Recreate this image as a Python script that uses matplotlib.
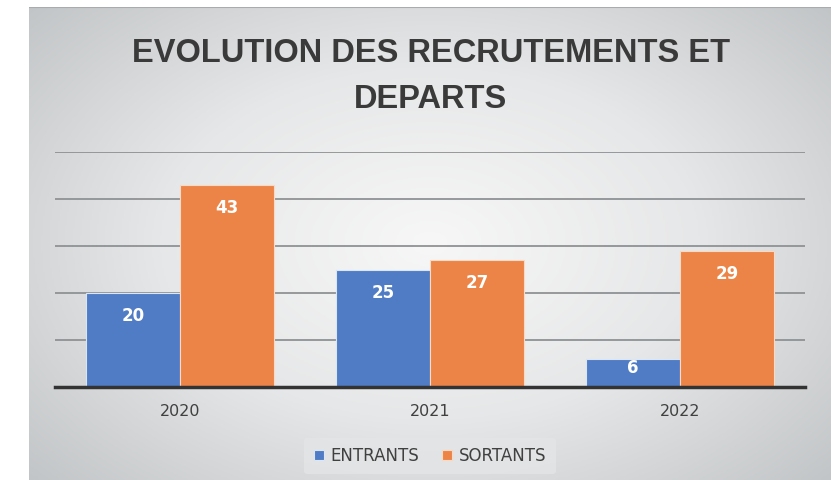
import numpy as np
import matplotlib.pyplot as plt
from matplotlib.colors import LinearSegmentedColormap

years = ["2020", "2021", "2022"]
entrants = [20, 25, 6]
sortants = [43, 27, 29]
series_names = ["ENTRANTS", "SORTANTS"]

blue = "#4f7cc4"
orange = "#ec8447"
title_font = ["Liberation Sans", "DejaVu Sans"]

W, H = 836, 480
fig = plt.figure(figsize=(W / 100, H / 100), dpi=100)
fig.patch.set_facecolor("white")

# panel with a radial gradient, like the office chart background
px0, px1, py0, py1 = 29, 831, 7, 480
bg = fig.add_axes([px0 / W, 1 - py1 / H, (px1 - px0) / W, (py1 - py0) / H])
gx, gy = np.meshgrid(np.linspace(-1, 1, 400), np.linspace(-1, 1, 240))
r = np.clip(np.sqrt(gx ** 2 + (gy * 0.9) ** 2) / 1.35, 0, 1)
cmap = LinearSegmentedColormap.from_list("bg", ["#f7f7f7", "#e6e7e8", "#c2c5c7"])
bg.imshow(r, cmap=cmap, aspect="auto", extent=[0, 1, 0, 1], origin="lower",
          vmin=0, vmax=1, interpolation="bilinear")
bg.set_axis_off()
bg.plot([0, 1], [1, 1], color="#a9acae", lw=1.5, transform=bg.transAxes)

# plot area: x 55..805, y 152..387 (0..50)
ax0, ax1, ay0, ay1 = 55, 805, 152, 387
ax = fig.add_axes([ax0 / W, 1 - ay1 / H, (ax1 - ax0) / W, (ay1 - ay0) / H])
ax.set_facecolor("none")

x = np.arange(len(years))
w = 0.375
b1 = ax.bar(x - w / 2, entrants, w, color=blue, edgecolor="#dbe6f5",
            linewidth=0.8, label=series_names[0], zorder=3)
b2 = ax.bar(x + w / 2, sortants, w, color=orange, edgecolor="#f7d9c4",
            linewidth=0.8, label=series_names[1], zorder=3)

px_per_unit = (ay1 - ay0) / 50
for bars in (b1, b2):
    for rect in bars:
        h = rect.get_height()
        # inside end; short bars get the label pushed up near the top
        off_px = min(23, 0.33 * h * px_per_unit)
        ax.annotate(f"{h:g}", (rect.get_x() + rect.get_width() / 2, h),
                    xytext=(0, -off_px * 72 / 100), textcoords="offset points",
                    ha="center", va="center", color="white",
                    fontsize=12, fontweight="bold", zorder=4)

ax.set_xlim(-0.5, 2.5)
ax.set_ylim(0, 50)
ax.set_yticks([10, 20, 30, 40, 50])
ax.yaxis.grid(True, color="#8f9294", lw=1.3, zorder=0)
ax.tick_params(axis="y", left=False, labelleft=False)
ax.set_xticks(x)
ax.set_xticklabels(years, fontsize=11.5, color="#404040")
ax.tick_params(axis="x", length=0, pad=12)
for s in ["top", "right", "left"]:
    ax.spines[s].set_visible(False)
ax.spines["bottom"].set_color("#333333")
ax.spines["bottom"].set_linewidth(2.5)
ax.spines["bottom"].set_zorder(5)

fig.text(431 / W, 1 - 53 / H, "EVOLUTION DES RECRUTEMENTS ET",
         ha="center", va="center", fontsize=23.5, fontweight="bold",
         color="#3a3a3a", family=title_font)
fig.text(431 / W, 1 - 100 / H, "DEPARTS",
         ha="center", va="center", fontsize=23.5, fontweight="bold",
         color="#3a3a3a", family=title_font)

leg = fig.legend(handles=[b1, b2], loc="center", bbox_to_anchor=(430 / W, 1 - 456 / H),
                 ncol=2, frameon=True, fontsize=12, handlelength=0.6,
                 handleheight=0.6, handletextpad=0.4, columnspacing=1.4,
                 borderpad=0.55)
leg.get_frame().set_facecolor("#e4e5e6")
leg.get_frame().set_edgecolor("none")
leg.get_frame().set_alpha(0.8)
for t in leg.get_texts():
    t.set_color("#404040")

fig.savefig("out.png", dpi=100)
